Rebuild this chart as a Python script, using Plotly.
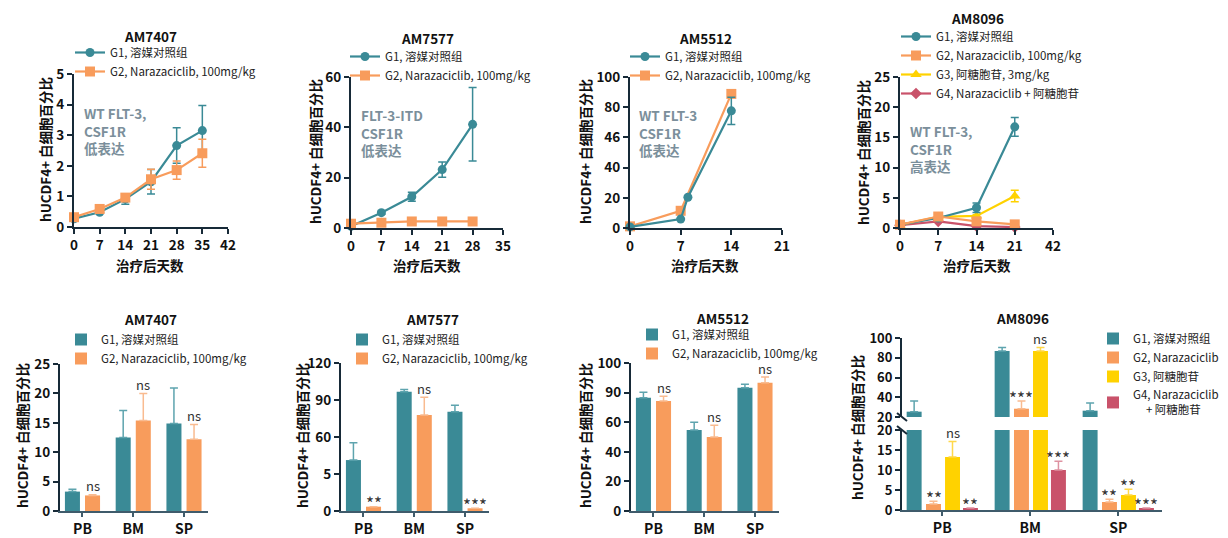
import plotly.graph_objects as go

# page body has an 8px margin: the figure is sized and shifted so the
# visible picture spans the 1228x538 window
OX, OY = 8, 8
FW, FH = 1228 - OX, 538 - OY
def fx(p): return (p - OX) / FW
def fy(p): return 1 - (p - OY) / FH

FONT = "Noto Sans CJK SC"
TEAL = "#3a8a96"
ORANGE = "#f89c5c"
YELLOW = "#ffd200"
RED = "#c9526a"
TEAL_E = "#5ea4ae"
ORANGE_E = "#f9bb90"
YELLOW_E = "#ffd84a"
RED_E = "#de92a1"
AXIS = "#172a38"
XAXIS_BAR = "#3f5b6b"
NOTE = "#7b8f9b"
INK = "#111111"

# ---------------- data: line charts ----------------
names_2 = ["G1, 溶媒对照组", "G2, Narazaciclib, 100mg/kg"]
names_4line = ["G1, 溶媒对照组", "G2, Narazaciclib, 100mg/kg",
               "G3, 阿糖胞苷, 3mg/kg", "G4, Narazaciclib + 阿糖胞苷"]

days_7407 = [0, 7, 14, 21, 28, 35]
g1_7407 = [0.27, 0.48, 0.91, 1.48, 2.66, 3.15]
g1_7407_err = [0.04, 0.04, 0.17, 0.40, 0.58, 0.82]
g2_7407 = [0.32, 0.59, 0.96, 1.56, 1.86, 2.41]
g2_7407_err = [0.04, 0.04, 0.10, 0.33, 0.30, 0.46]

days_7577 = [0, 7, 14, 21, 28]
g1_7577 = [0.7, 6.1, 12.4, 23.2, 41.2]
g1_7577_err = [0.3, 0.6, 1.8, 3.0, 14.6]
g2_7577 = [1.7, 2.1, 2.6, 2.6, 2.6]
g2_7577_err = [0.3, 0.3, 0.3, 0.3, 0.3]

days_5512_g1 = [0, 7, 8, 14]
g1_5512 = [0.7, 5.9, 20.4, 77.6]
g1_5512_err = [0.0, 0.0, 0.0, 9.0]
days_5512_g2 = [0, 7, 14]
g2_5512 = [1.1, 11.4, 88.8]
g2_5512_err = [0.0, 0.0, 0.0]

days_8096 = [0, 7, 14, 21]
g1_8096 = [0.55, 1.65, 3.35, 16.75]
g1_8096_err = [0.1, 0.2, 0.8, 1.55]
g2_8096 = [0.55, 1.9, 1.1, 0.6]
g2_8096_err = [0.1, 0.2, 0.2, 0.1]
g3_8096 = [0.5, 1.85, 2.0, 5.3]
g3_8096_err = [0.1, 0.2, 0.2, 0.95]
g4_8096 = [0.45, 1.1, 0.3, 0.15]
g4_8096_err = [0.05, 0.1, 0.05, 0.05]

ticks_5512_line = ["0", "20", "40", "46", "80", "100"]
ticks_8096_line = ["0", "7", "14", "21", "42"]

# ---------------- data: bar charts ----------------
cats = ["PB", "BM", "SP"]
names_4bar = ["G1, 溶媒对照组", "G2, Narazaciclib", "G3, 阿糖胞苷",
              "G4, Narazaciclib<br>\u00a0\u00a0\u00a0\u00a0\u00a0+ 阿糖胞苷"]

b_g1_7407 = [3.3, 12.5, 14.9]
b_g1_7407_err = [0.4, 4.6, 6.0]
b_g2_7407 = [2.65, 15.4, 12.2]
b_g2_7407_err = [0.1, 4.6, 2.5]
sig_7407 = ["ns", "ns", "ns"]

b_g1_7577 = [41.3, 96.7, 80.4]
b_g1_7577_err = [14.1, 1.9, 5.4]
b_g2_7577 = [3.5, 77.9, 2.2]
b_g2_7577_err = [0.0, 14.4, 0.0]
sig_7577 = ["**", "ns", "***"]
ticks_7577_bar = ["0", "5", "60", "90", "120"]

b_g1_5512 = [76.5, 54.8, 83.3]
b_g1_5512_err = [3.8, 5.2, 2.4]
b_g2_5512 = [74.4, 50.0, 86.7]
b_g2_5512_err = [3.2, 7.9, 3.8]
sig_5512 = ["ns", "ns", "ns"]
ticks_5512_bar = ["0", "20", "40", "60", "90", "100"]

b_g1_8096 = [25.4, 86.9, 26.4]
b_g1_8096_err = [10.7, 3.4, 7.7]
b_g2_8096 = [1.5, 28.4, 2.0]
b_g2_8096_err = [0.7, 7.7, 0.7]
b_g3_8096 = [13.25, 86.9, 3.75]
b_g3_8096_err = [3.85, 3.4, 1.45]
b_g4_8096 = [0.5, 10.0, 0.5]
b_g4_8096_err = [0.0, 2.2, 0.0]
sig_8096_g2 = ["**", "***", "**"]
sig_8096_g3 = ["ns", "ns", "**"]
sig_8096_g4 = ["**", "***", "***"]
BREAK = 20

# ---------------- figure ----------------
fig = go.Figure()
annotations = []
shapes = []

def ax_id(n):
    return "" if n == 1 else str(n)

def add_line(n, x, y, err, color, symbol, size, name, legend, rank):
    fig.add_trace(go.Scatter(
        x=x, y=y, mode="lines+markers", name=name, legendrank=rank,
        xaxis="x" + ax_id(n), yaxis="y" + ax_id(n), legend=legend,
        line=dict(color=color, width=2.2),
        marker=dict(color=color, symbol=symbol, size=size, line=dict(width=0)),
        error_y=dict(type="data", array=err, color=color, thickness=1.5, width=4),
        cliponaxis=False,
    ))

def add_bar(xn, yn, y, err, color, ecolor, name, legend, width, offset, rank, showlegend=True):
    fig.add_trace(go.Bar(
        x=cats, y=y, name=name, width=width, offset=offset, legendrank=rank,
        xaxis="x" + ax_id(xn), yaxis="y" + ax_id(yn), legend=legend,
        showlegend=showlegend,
        marker=dict(color=color, line=dict(width=0)),
        error_y=dict(type="data", array=err, arrayminus=[0] * len(err), symmetric=False,
                     color=ecolor, thickness=1.5, width=4),
    ))

# line panels
add_line(1, days_7407, g1_7407, g1_7407_err, TEAL, "circle", 9, names_2[0], "legend", 1)
add_line(1, days_7407, g2_7407, g2_7407_err, ORANGE, "square", 10, names_2[1], "legend", 2)
add_line(2, days_7577, g1_7577, g1_7577_err, TEAL, "circle", 9, names_2[0], "legend2", 1)
add_line(2, days_7577, g2_7577, g2_7577_err, ORANGE, "square", 10, names_2[1], "legend2", 2)
add_line(3, days_5512_g2, g2_5512, g2_5512_err, ORANGE, "square", 10, names_2[1], "legend3", 2)
add_line(3, days_5512_g1, g1_5512, g1_5512_err, TEAL, "circle", 9, names_2[0], "legend3", 1)
add_line(4, days_8096, g4_8096, g4_8096_err, RED, "diamond", 9, names_4line[3], "legend4", 4)
add_line(4, days_8096, g3_8096, g3_8096_err, YELLOW, "triangle-up", 10, names_4line[2], "legend4", 3)
add_line(4, days_8096, g1_8096, g1_8096_err, TEAL, "circle", 9, names_4line[0], "legend4", 1)
add_line(4, days_8096, g2_8096, g2_8096_err, ORANGE, "square", 10, names_4line[1], "legend4", 2)

# bar panels (2 groups)
W2, OFF2 = 0.296, [-0.346, 0.05]
for n, g1, e1, g2, e2 in [(5, b_g1_7407, b_g1_7407_err, b_g2_7407, b_g2_7407_err),
                          (6, b_g1_7577, b_g1_7577_err, b_g2_7577, b_g2_7577_err),
                          (7, b_g1_5512, b_g1_5512_err, b_g2_5512, b_g2_5512_err)]:
    leg = "legend" + str(n)
    add_bar(n, n, g1, e1, TEAL, TEAL_E, names_2[0], leg, W2, OFF2[0], 1)
    add_bar(n, n, g2, e2, ORANGE, ORANGE_E, names_2[1], leg, W2, OFF2[1], 2)

# bar panel 8 (broken axis: y8 lower, y9 upper)
W4, OFF4 = 0.17, [-0.405, -0.185, 0.031, 0.235]
series8 = [(b_g1_8096, b_g1_8096_err, TEAL, TEAL_E),
           (b_g2_8096, b_g2_8096_err, ORANGE, ORANGE_E),
           (b_g3_8096, b_g3_8096_err, YELLOW, YELLOW_E),
           (b_g4_8096, b_g4_8096_err, RED, RED_E)]
for i, (v, e, c, ec) in enumerate(series8):
    e_low = [ee if vv < BREAK else 0 for vv, ee in zip(v, e)]
    e_up = [ee if vv >= BREAK else 0 for vv, ee in zip(v, e)]
    add_bar(8, 8, v, e_low, c, ec, names_4bar[i], "legend8", W4, OFF4[i], i + 1)
    add_bar(8, 9, v, e_up, c, ec, names_4bar[i], "legend8", W4, OFF4[i], i + 1, showlegend=False)

# ---------------- axes ----------------
tickfont = dict(family=FONT, size=13.5, color=INK, weight="bold")

def xline(n, px0, px1, anchor, **kw):
    d = dict(domain=[fx(px0), fx(px1)], anchor="y" + ax_id(anchor), automargin=False,
             showline=True, linecolor=AXIS, linewidth=2, showgrid=False, zeroline=False,
             ticks="outside", ticklen=5, tickwidth=2, tickcolor=AXIS, tickfont=tickfont)
    d.update(kw)
    fig.layout["xaxis" + ax_id(n)] = d

def yline(n, py0, py1, anchor, **kw):
    d = dict(domain=[fy(py1), fy(py0)], anchor="x" + ax_id(anchor), automargin=False,
             showline=True, linecolor=AXIS, linewidth=2, showgrid=False, zeroline=False,
             ticks="outside", ticklen=5, tickwidth=2, tickcolor=AXIS, tickfont=tickfont)
    d.update(kw)
    fig.layout["yaxis" + ax_id(n)] = d

xline(1, 74, 228, 1, range=[0, 42], tickvals=[0, 7, 14, 21, 28, 35, 42])
yline(1, 74, 227, 1, range=[0, 5], dtick=1)
xline(2, 351, 503, 2, range=[0, 35], tickvals=[0, 7, 14, 21, 28, 35])
yline(2, 77, 228, 2, range=[0, 60], dtick=20)
xline(3, 630, 782, 3, range=[0, 21], tickvals=[0, 7, 14, 21])
yline(3, 77, 228, 3, range=[0, 100], tickvals=[0, 20, 40, 60, 80, 100], ticktext=ticks_5512_line)
xline(4, 900, 1053, 4, range=[0, 28], tickvals=[0, 7, 14, 21, 28], ticktext=ticks_8096_line)
yline(4, 77, 228, 4, range=[0, 25], dtick=5)

barx = dict(type="category", categoryorder="array", categoryarray=cats,
            linecolor=XAXIS_BAR, linewidth=1.5, tickcolor=XAXIS_BAR, tickwidth=1.5, ticklen=4,
            tickfont=dict(family=FONT, size=14, color=INK, weight="bold"))
xline(5, 60, 208, 5, range=[-0.443, 2.473], **barx)
yline(5, 364, 511, 5, range=[0, 25], dtick=5)
xline(6, 341, 489, 6, range=[-0.443, 2.473], **barx)
yline(6, 363, 511, 6, range=[0, 120], tickvals=[0, 30, 60, 90, 120], ticktext=ticks_7577_bar)
xline(7, 631, 779, 7, range=[-0.443, 2.473], **barx)
yline(7, 363, 511, 7, range=[0, 100], tickvals=[0, 20, 40, 60, 80, 100], ticktext=ticks_5512_bar)
xline(8, 902, 1162, 8, range=[-0.458, 2.497], **barx)
brk_font = dict(family=FONT, size=13, color=INK, weight="bold")
yline(8, 430, 510, 8, range=[0, BREAK], tickvals=[0, 5, 10, 15, 20], tickfont=brk_font)
yline(9, 338, 417, 8, range=[BREAK, 100], tickvals=[20, 40, 60, 80, 100], tickfont=brk_font)

# ---------------- legends ----------------
legfont = dict(family=FONT, size=11.5, color="#222222")
def legend(px, py):
    return dict(x=fx(px), y=fy(py), xanchor="left", yanchor="top", bgcolor="rgba(0,0,0,0)",
                font=legfont, borderwidth=0, tracegroupgap=0, itemclick=False,
                itemdoubleclick=False)
fig.layout.legend = legend(70, 38)
fig.layout["legend2"] = legend(345, 42)
fig.layout["legend3"] = legend(625, 42)
fig.layout["legend4"] = legend(896, 22)
fig.layout["legend5"] = legend(61, 325)
fig.layout["legend6"] = legend(342, 325)
fig.layout["legend7"] = legend(632, 320)
fig.layout["legend8"] = legend(1093, 324)

# ---------------- text ----------------
def text(px, py, s, size=14, bold=True, color=INK, angle=0, xanchor="center", yanchor="middle"):
    annotations.append(dict(x=fx(px), y=fy(py), xref="paper", yref="paper", text=s,
                            showarrow=False, textangle=angle, xanchor=xanchor, yanchor=yanchor,
                            align="left",
                            font=dict(family=FONT, size=size, color=color,
                                      weight="bold" if bold else "normal")))

for (px, py, s) in [(150, 36, "AM7407"), (427, 38, "AM7577"), (705, 38, "AM5512"), (977, 18, "AM8096"),
                    (150, 319, "AM7407"), (432, 319, "AM7577"), (722, 318, "AM5512"), (1022, 318, "AM8096")]:
    text(px, py, s, size=13.5)

for px in [150, 427, 705, 977]:
    text(px, 265, "治疗后天数", size=13.5)

ytitle = "hUCDF4+ 白细胞百分比"
for (px, py) in [(45, 150), (315, 152), (585, 152), (863, 152),
                 (22, 436), (302, 436), (585, 436), (857, 428)]:
    text(px, py, ytitle, size=13.5, angle=-90)

for (px, py, s) in [(82, 101, "WT FLT-3,<br>CSF1R<br>低表达"),
                    (359, 103, "FLT-3-ITD<br>CSF1R<br>低表达"),
                    (637, 103, "WT FLT-3<br>CSF1R<br>低表达"),
                    (908, 119, "WT FLT-3,<br>CSF1R<br>高表达")]:
    text(px, py, s, size=13.5, color=NOTE, xanchor="left", yanchor="top")

# significance labels
def sig(xn, yn_low, yn_up, labels, vals, errs, width, offset):
    for i, (lab, v, e) in enumerate(zip(labels, vals, errs)):
        top = v + e
        yn = yn_low if (yn_up is None or top < BREAK) else yn_up
        star = lab.startswith("*")
        annotations.append(dict(
            x=i + offset + width / 2, y=top, xref="x" + ax_id(xn), yref="y" + ax_id(yn),
            text=lab, showarrow=False, xanchor="center", yanchor="middle",
            yshift=4 if star else 9,
            font=dict(family=FONT, size=17 if star else 13, color="#333333")))

sig(5, 5, None, sig_7407, b_g2_7407, b_g2_7407_err, W2, OFF2[1])
sig(6, 6, None, sig_7577, b_g2_7577, b_g2_7577_err, W2, OFF2[1])
sig(7, 7, None, sig_5512, b_g2_5512, b_g2_5512_err, W2, OFF2[1])
sig(8, 8, 9, sig_8096_g2, b_g2_8096, b_g2_8096_err, W4, OFF4[1])
sig(8, 8, 9, sig_8096_g3, b_g3_8096, b_g3_8096_err, W4, OFF4[2])
sig(8, 8, 9, sig_8096_g4, b_g4_8096, b_g4_8096_err, W4, OFF4[3])

# axis break marks
for (y0, y1) in [(413, 421), (426, 434)]:
    shapes.append(dict(type="line", xref="paper", yref="paper",
                       x0=fx(897), y0=fy(y0), x1=fx(907), y1=fy(y1),
                       line=dict(color=AXIS, width=2)))

fig.update_layout(
    width=FW, height=FH, margin=dict(l=0, r=0, t=0, b=0, pad=0, autoexpand=False),
    paper_bgcolor="white", plot_bgcolor="white",
    barmode="overlay", showlegend=True,
    font=dict(family=FONT, color=INK),
    annotations=annotations, shapes=shapes,
)

fig.write_html("out.html")
